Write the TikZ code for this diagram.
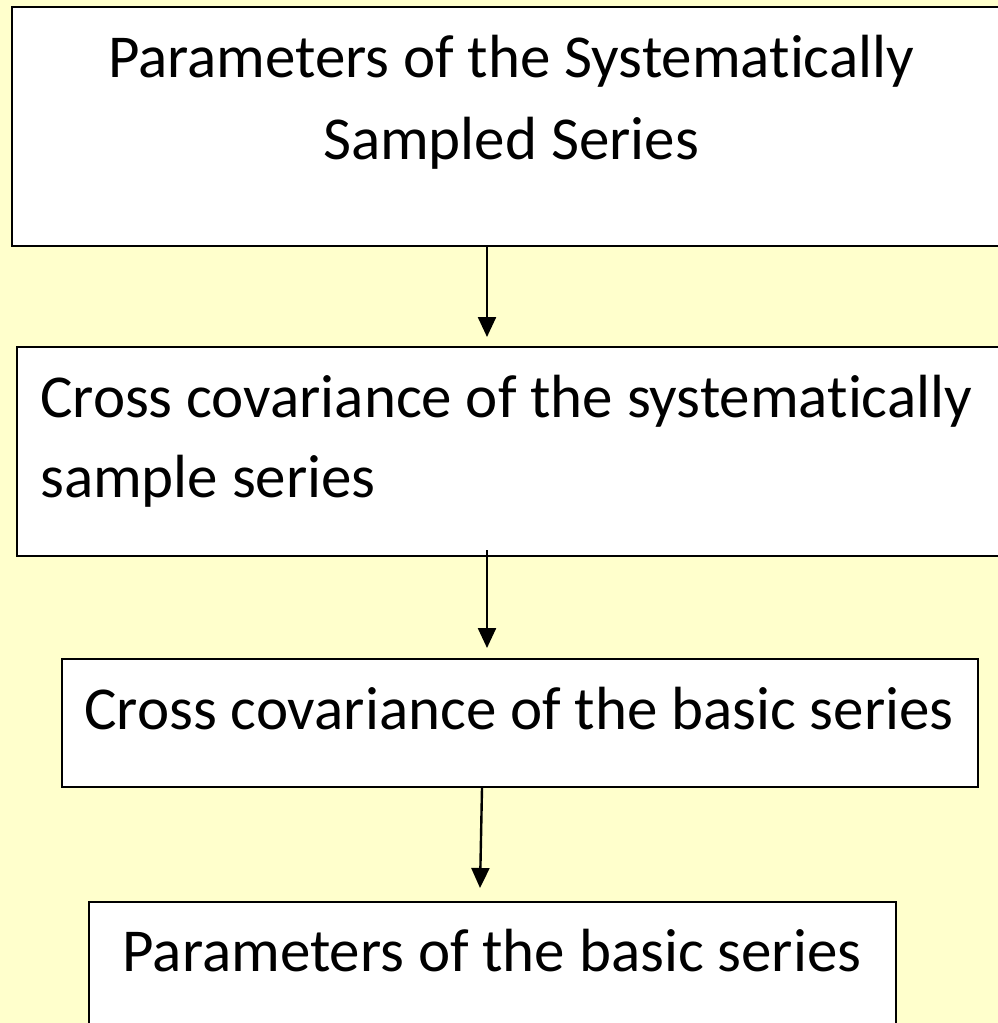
\documentclass[tikz,border=0pt]{standalone}
\usepackage{fontspec}
\setmainfont[Ligatures=NoCommon]{Carlito}
\usetikzlibrary{arrows.meta}
\definecolor{bgyellow}{RGB}{255,255,204}
\tikzset{
  box/.style={draw=black, line width=1.6bp, fill=white, inner sep=0pt, anchor=north west},
  txt/.style={inner sep=0pt, anchor=base, font=\fontsize{61.2}{72}\selectfont},
  txtl/.style={txt, anchor=base west},
  arr/.style={line width=2.4bp, -{Triangle[width=18bp,length=20bp]}}
}
\begin{document}
\begin{tikzpicture}[x=1bp,y=-1bp]
\useasboundingbox (0,0) rectangle (998,1023);
\fill[bgyellow] (0,0) rectangle (998,1023);
\begin{scope}
\clip (0,0) rectangle (998,1023);
\node[box, minimum width=1010bp, minimum height=239bp] (b1) at (11,6) {};
\node[box, minimum width=1010bp, minimum height=209bp] (b2) at (16,346) {};
\node[box, minimum width=916bp, minimum height=128bp] (b3) at (61,658) {};
\node[box, minimum width=807bp, minimum height=140bp] (b4) at (88,901) {};
\end{scope}
\node[txt] (t1a) at (511,77) {Parameters of the Systematically};
\node[txt] (t1b) at (511,159) {Sampled Series};
\node[txtl] (t2a) at (40,417) {Cross covariance of the systematically};
\node[txtl] (t2b) at (40,497) {sample series};
\node[txt] (t3) at (519,729) {Cross covariance of the basic series};
\node[txt] (t4) at (492,971) {Parameters of the basic series};
\coordinate (a1s) at (487,247);
\coordinate (a1e) at (487,337);
\coordinate (a2s) at (487,550);
\coordinate (a2e) at (487,648);
\coordinate (a3s) at (482,788);
\coordinate (a3e) at (480,888);
\draw[arr] (a1s) -- (a1e);
\draw[arr] (a2s) -- (a2e);
\draw[arr] (a3s) -- (a3e);
\end{tikzpicture}
\end{document}
